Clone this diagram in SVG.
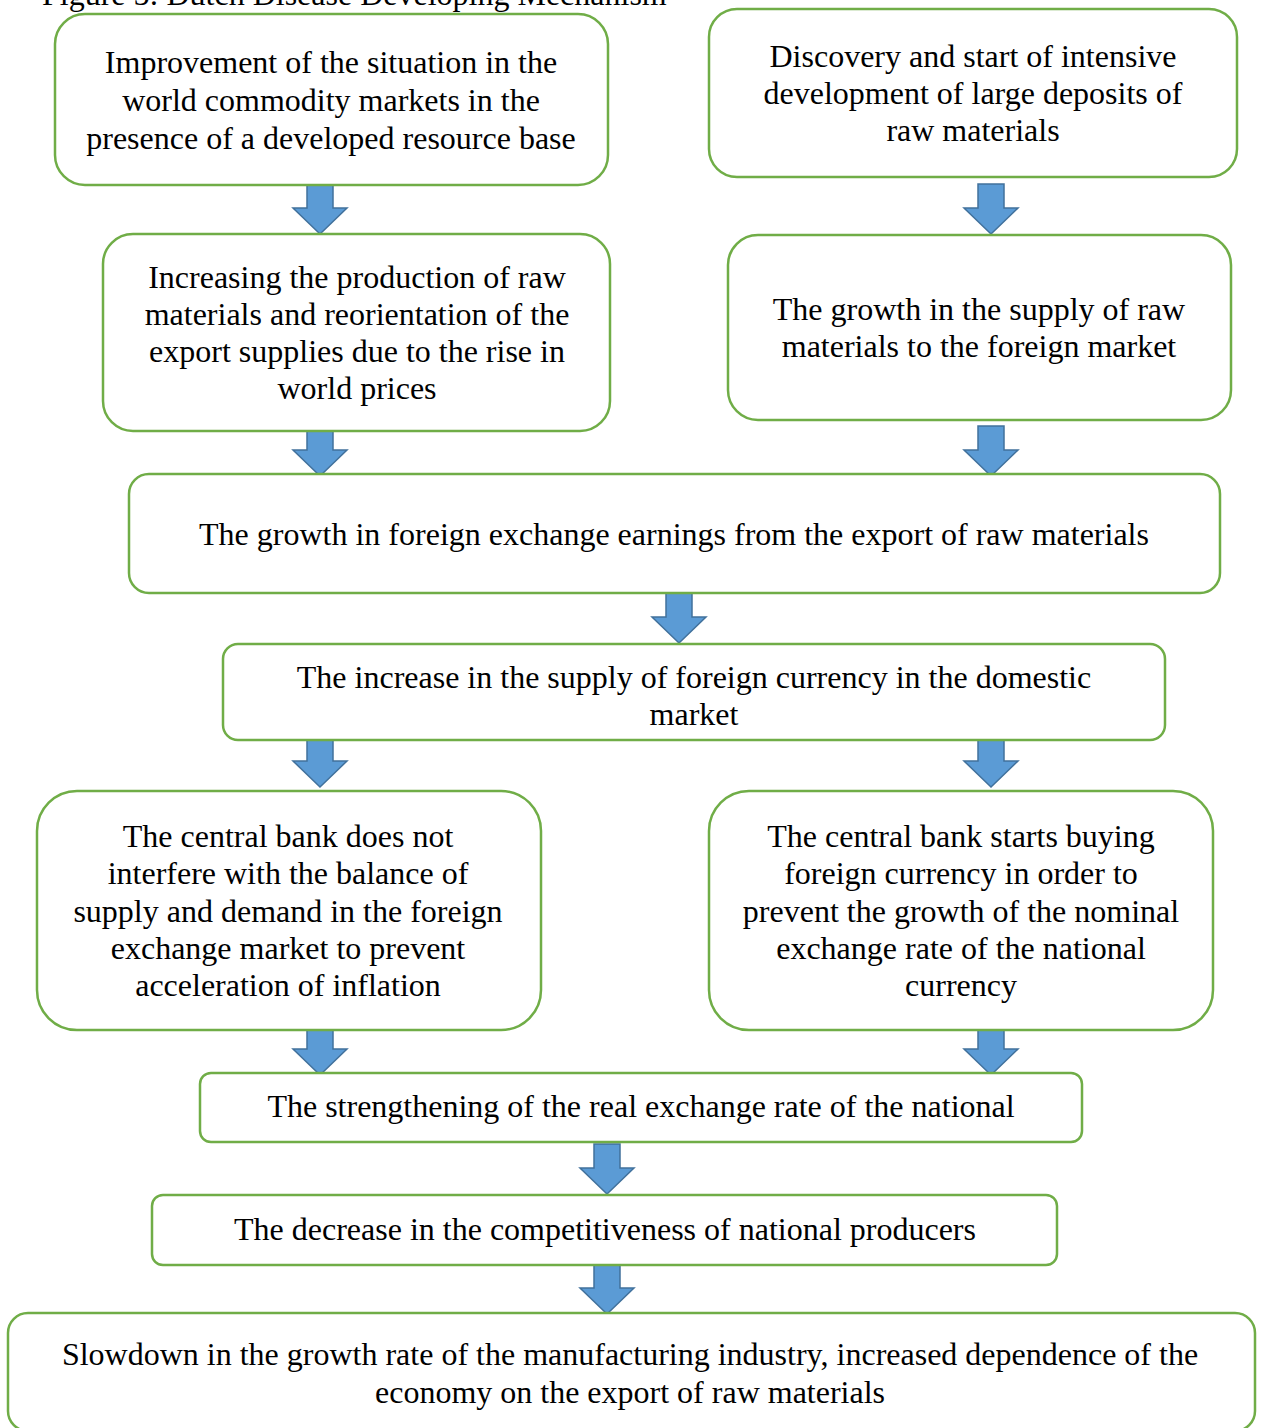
<svg xmlns="http://www.w3.org/2000/svg" width="1263" height="1428" viewBox="0 0 1263 1428">
<defs>
<style>
.box{fill:#fff;stroke:#70AD47;stroke-width:2.5}
.t{font-family:"Liberation Serif","Times New Roman",serif;font-size:32px;fill:#000;text-anchor:middle}
.title{font-family:"Liberation Serif","Times New Roman",serif;font-size:32px;fill:#000}
.arr{fill:#5B9BD5;stroke:#41719C;stroke-width:1.5}
</style>
<path id="a" d="M-13,0 H13 V24 H27 L0,50 L-27,24 H-13 Z"/>
</defs>
<rect width="1263" height="1428" fill="#fff"/>
<text class="title" x="42" y="5">Figure 5: Dutch Disease Developing Mechanism</text>
<g id="connectors">
<use href="#a" class="arr" x="320" y="184"/>
<use href="#a" class="arr" x="991" y="184"/>
<use href="#a" class="arr" x="320" y="426"/>
<use href="#a" class="arr" x="991" y="426"/>
<use href="#a" class="arr" x="679" y="593"/>
<use href="#a" class="arr" x="320" y="737"/>
<use href="#a" class="arr" x="991" y="737"/>
<use href="#a" class="arr" x="320" y="1025"/>
<use href="#a" class="arr" x="991" y="1025"/>
<use href="#a" class="arr" x="607" y="1144"/>
<use href="#a" class="arr" x="607" y="1264"/>
</g>
<g id="n1"><rect class="box" x="55" y="14" width="553" height="171" rx="30"/>
<text class="t" x="331" y="73">Improvement of the situation in the</text>
<text class="t" x="331" y="111">world commodity markets in the</text>
<text class="t" x="331" y="149">presence of a developed resource base</text></g>
<g id="n2"><rect class="box" x="709" y="9" width="528" height="168" rx="28"/>
<text class="t" x="973" y="67">Discovery and start of intensive</text>
<text class="t" x="973" y="104">development of large deposits of</text>
<text class="t" x="973" y="141">raw materials</text></g>
<g id="n3"><rect class="box" x="103" y="234" width="507" height="197" rx="30"/>
<text class="t" x="357" y="288">Increasing the production of raw</text>
<text class="t" x="357" y="325">materials and reorientation of the</text>
<text class="t" x="357" y="362">export supplies due to the rise in</text>
<text class="t" x="357" y="399">world prices</text></g>
<g id="n4"><rect class="box" x="728" y="235" width="503" height="185" rx="30"/>
<text class="t" x="979" y="320">The growth in the supply of raw</text>
<text class="t" x="979" y="357">materials to the foreign market</text></g>
<g id="n5"><rect class="box" x="129" y="474" width="1091" height="119" rx="20"/>
<text class="t" x="674" y="545">The growth in foreign exchange earnings from the export of raw  materials</text></g>
<g id="n6"><rect class="box" x="223" y="644" width="942" height="96" rx="15"/>
<text class="t" x="694" y="688">The increase in the supply of foreign currency in the domestic</text>
<text class="t" x="694" y="725">market</text></g>
<g id="n7"><rect class="box" x="37" y="791" width="504" height="239" rx="40"/>
<text class="t" x="288" y="847">The central bank does not</text>
<text class="t" x="288" y="884">interfere with the balance of</text>
<text class="t" x="288" y="922">supply and demand in the foreign</text>
<text class="t" x="288" y="959">exchange market to prevent</text>
<text class="t" x="288" y="996">acceleration of inflation</text></g>
<g id="n8"><rect class="box" x="709" y="791" width="504" height="239" rx="40"/>
<text class="t" x="961" y="847">The central bank starts buying</text>
<text class="t" x="961" y="884">foreign currency in order to</text>
<text class="t" x="961" y="922">prevent the growth of the nominal</text>
<text class="t" x="961" y="959">exchange rate of the national</text>
<text class="t" x="961" y="996">currency</text></g>
<g id="n9"><rect class="box" x="200" y="1073" width="882" height="69" rx="11"/>
<text class="t" x="641" y="1117">The strengthening of the real exchange rate of the national</text></g>
<g id="n10"><rect class="box" x="152" y="1195" width="905" height="70" rx="11"/>
<text class="t" x="605" y="1240">The decrease in the competitiveness of national producers</text></g>
<g id="n11"><rect class="box" x="8" y="1313" width="1247" height="118" rx="20"/>
<text class="t" x="630" y="1365">Slowdown in the growth rate of the manufacturing industry, increased dependence of the</text>
<text class="t" x="630" y="1403">economy on the export of raw materials</text></g>
</svg>
